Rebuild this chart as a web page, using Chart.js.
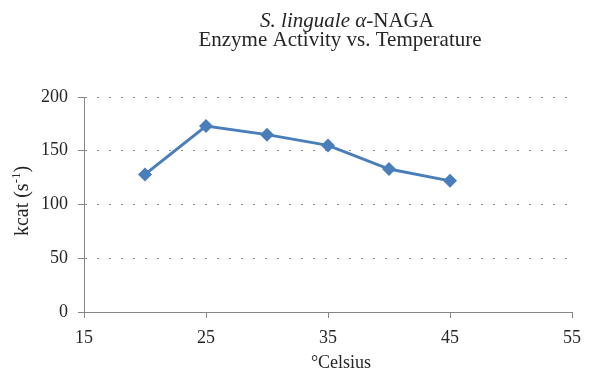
<!DOCTYPE html>
<html>
<head>
<meta charset="utf-8">
<script src="https://cdn.jsdelivr.net/npm/chart.js@4/dist/chart.umd.min.js"></script>
<style>
  html, body { margin: 0; padding: 0; background: #ffffff; }
  canvas { display: block; }
</style>
</head>
<body>
<canvas id="chart" width="602" height="375"></canvas>
<script>
// Temperatures (°C) and measured turnover numbers (kcat, s^-1)
const temperatures = [20, 25, 30, 35, 40, 45];
const kcatValues = [128, 173, 165, 155, 133, 122];

// Axis ranges and tick spacing
const xTickValues = [15, 25, 35, 45, 55];
const yTickValues = [0, 50, 100, 150, 200];

const SERIF = '"Liberation Serif", "Times New Roman", serif';
const AXIS_COLOR = '#868686';
const LINE_COLOR = '#4a7ebb';
const TEXT_COLOR = '#262626';

// Titles drawn on the canvas: the first line mixes italic and upright text,
// and the y-axis title carries a superscript.
const titlesPlugin = {
  id: 'titles',
  afterDraw(chart) {
    const ctx = chart.ctx;
    ctx.save();
    ctx.fillStyle = TEXT_COLOR;
    ctx.textBaseline = 'alphabetic';
    ctx.textAlign = 'left';

    const drawParts = (parts, cx, y) => {
      let w = 0;
      parts.forEach(p => { ctx.font = p.f; p.w = ctx.measureText(p.t).width; w += p.w; });
      let x = cx - w / 2;
      parts.forEach(p => { ctx.font = p.f; ctx.fillText(p.t, x, y + (p.dy || 0)); x += p.w; });
    };

    // Main title, line 1: "S. linguale α-NAGA"
    drawParts([
      { t: 'S. linguale ', f: 'italic 21px ' + SERIF },
      { t: 'α', f: 'italic 21px ' + SERIF },
      { t: '-NAGA', f: '21px ' + SERIF }
    ], 347, 27);

    // Main title, line 2
    ctx.font = '21px ' + SERIF;
    ctx.textAlign = 'center';
    ctx.fillText('Enzyme Activity vs. Temperature', 340, 46);

    // X-axis title
    ctx.font = '18px ' + SERIF;
    ctx.fillText('°Celsius', 341, 368);

    // Y-axis title, rotated, with superscript -1
    ctx.textAlign = 'left';
    ctx.translate(28, 201);
    ctx.rotate(-Math.PI / 2);
    drawParts([
      { t: 'kcat (s', f: '20px ' + SERIF },
      { t: '-1', f: '13px ' + SERIF, dy: -8 },
      { t: ')', f: '20px ' + SERIF }
    ], 0, 0);
    ctx.restore();
  }
};

new Chart(document.getElementById('chart'), {
  type: 'line',
  data: {
    datasets: [{
      data: temperatures.map((t, i) => ({ x: t, y: kcatValues[i] })),
      borderColor: LINE_COLOR,
      backgroundColor: LINE_COLOR,
      borderWidth: 3,
      pointStyle: 'rectRot',
      pointRadius: 7,
      pointHoverRadius: 7,
      pointBorderWidth: 0,
      tension: 0,
      fill: false
    }]
  },
  options: {
    responsive: false,
    animation: false,
    devicePixelRatio: 1,
    layout: { padding: { top: 97, right: 30, bottom: 0, left: 0 } },
    plugins: {
      legend: { display: false },
      title: { display: false },
      tooltip: { enabled: false }
    },
    scales: {
      x: {
        type: 'linear',
        min: xTickValues[0],
        max: xTickValues[xTickValues.length - 1],
        afterBuildTicks(scale) { scale.ticks = xTickValues.map(v => ({ value: v })); },
        afterFit(scale) { scale.height = 63; },
        border: { display: true, color: AXIS_COLOR, width: 1 },
        grid: {
          drawOnChartArea: false,
          drawTicks: true,
          tickLength: 6,
          tickColor: AXIS_COLOR,
          color: AXIS_COLOR
        },
        ticks: {
          color: TEXT_COLOR,
          font: { family: SERIF, size: 18 },
          padding: 9,
          maxRotation: 0
        }
      },
      y: {
        min: yTickValues[0],
        max: yTickValues[yTickValues.length - 1],
        afterBuildTicks(scale) { scale.ticks = yTickValues.map(v => ({ value: v })); },
        afterFit(scale) { scale.width = 84; },
        border: { display: true, color: AXIS_COLOR, width: 1, dash: [2, 10] },
        grid: {
          drawOnChartArea: true,
          drawTicks: true,
          tickLength: 6,
          color: ctx => ctx.tick && ctx.tick.value === 0 ? 'rgba(0,0,0,0)' : '#8c8c8c',
          tickColor: AXIS_COLOR,
          tickBorderDash: []
        },
        ticks: {
          color: TEXT_COLOR,
          font: { family: SERIF, size: 18 },
          padding: 10
        }
      }
    }
  },
  plugins: [titlesPlugin]
});
</script>
</body>
</html>
